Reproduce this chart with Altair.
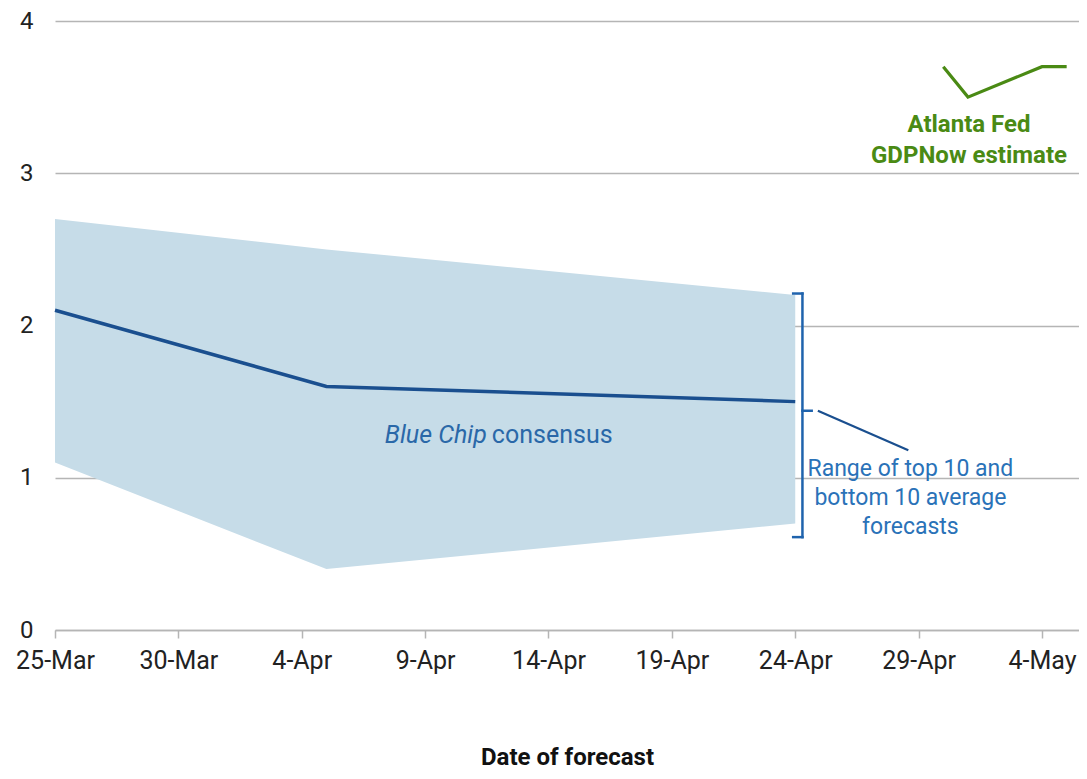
import altair as alt
import pandas as pd

# ---- data ----
band_dates = ["2024-03-25T00:00:00", "2024-04-05T00:00:00", "2024-04-24T00:00:00"]
consensus = [2.1, 1.6, 1.5]
range_low = [1.1, 0.4, 0.7]
range_high = [2.7, 2.5, 2.2]

gdpnow_dates = ["2024-04-30T00:00:00", "2024-05-01T00:00:00",
                "2024-05-04T00:00:00", "2024-05-05T00:00:00"]
gdpnow = [3.7, 3.5, 3.7, 3.7]

tick_days = [(3, 25), (3, 30), (4, 4), (4, 9), (4, 14), (4, 19), (4, 24), (4, 29), (5, 4)]
y_ticks = [0, 1, 2, 3, 4]

# bracket annotation (segments: start date, end date, start value, end value)
bracket_start = ["2024-04-23T22:00:00", "2024-04-24T07:00:00", "2024-04-23T22:00:00", "2024-04-24T07:00:00"]
bracket_end = ["2024-04-24T07:00:00", "2024-04-24T07:00:00", "2024-04-24T07:00:00", "2024-04-24T16:00:00"]
bracket_v0 = [2.21, 2.21, 0.61, 1.44]
bracket_v1 = [2.21, 0.61, 0.61, 1.44]

leader_start = ["2024-04-24T22:00:00"]
leader_end = ["2024-04-28T14:00:00"]
leader_v0 = [1.44]
leader_v1 = [1.18]

label_texts = ["Range of top 10 and\nbottom 10 average\nforecasts", "Atlanta Fed\nGDPNow estimate"]
label_dates = ["2024-04-28T16:00:00", "2024-05-01T01:00:00"]
label_values = [1.06, 3.32]

bc_date = ["2024-04-11T14:00:00"]
bc_value = [1.28]

# ---- frames ----
band_df = pd.DataFrame({"date": band_dates, "value": range_low, "value2": range_high})
cons_df = pd.DataFrame({"date": band_dates, "value": consensus})
gdp_df = pd.DataFrame({"date": gdpnow_dates, "value": gdpnow})
bracket_df = pd.DataFrame({"date": bracket_start, "date2": bracket_end,
                           "value": bracket_v0, "value2": bracket_v1})
leader_df = pd.DataFrame({"date": leader_start, "date2": leader_end,
                          "value": leader_v0, "value2": leader_v1})
range_lbl_df = pd.DataFrame({"date": label_dates[:1], "value": label_values[:1], "text": label_texts[:1]})
atl_lbl_df = pd.DataFrame({"date": label_dates[1:], "value": label_values[1:], "text": label_texts[1:]})
bc_df = pd.DataFrame({"date": bc_date, "value": bc_value})

FONT = "Roboto"
GRID = "#b5b5b5"

tick_values = [alt.DateTime(year=2024, month=m, date=d) for m, d in tick_days]
x_scale = alt.Scale(domain=[alt.DateTime(year=2024, month=3, date=25),
                            alt.DateTime(year=2024, month=5, date=5, hours=12)])
y_scale = alt.Scale(domain=[0, 4], nice=False)

x_axis = alt.Axis(values=tick_values, format="%-d-%b", title="Date of forecast",
                  labelFont=FONT, labelFontSize=25, labelColor="#222",
                  tickColor=GRID, tickSize=8, tickWidth=1.5,
                  domainColor=GRID, domainWidth=1.5, grid=False,
                  labelPadding=10, labelFlush=False, labelOverlap=False,
                  titleFont=FONT, titleFontSize=24, titleFontWeight="bold",
                  titleColor="#111", titlePadding=72)
y_axis = alt.Axis(values=y_ticks, grid=True, gridColor=GRID, gridWidth=1.5,
                  domain=False, ticks=False, labelFont=FONT, labelFontSize=24,
                  labelColor="#222", labelPadding=22, title=None)

X = alt.X("date:T", scale=x_scale, axis=x_axis)
Y = alt.Y("value:Q", scale=y_scale, axis=y_axis)

band = alt.Chart(band_df).mark_area(color="#c6dce8", opacity=1).encode(
    x=X, y=Y, y2=alt.Y2("value2:Q"))
cons = alt.Chart(cons_df).mark_line(color="#1a4f8f", strokeWidth=3.5).encode(x=X, y=Y)
gdp = alt.Chart(gdp_df).mark_line(color="#4a8a14", strokeWidth=3.2).encode(x=X, y=Y)
bracket = alt.Chart(bracket_df).mark_rule(color="#1f63ad", strokeWidth=2.5, strokeCap="square").encode(
    x=X, x2=alt.X2("date2:T"), y=Y, y2=alt.Y2("value2:Q"))
leader = alt.Chart(leader_df).mark_rule(color="#1a4f8f", strokeWidth=2.2).encode(
    x=X, x2=alt.X2("date2:T"), y=Y, y2=alt.Y2("value2:Q"))
range_lbl = alt.Chart(range_lbl_df).mark_text(
    font=FONT, fontSize=23, color="#2a72b8", align="center", baseline="middle",
    lineBreak="\n", lineHeight=29).encode(x=X, y=Y, text="text:N")
atl_lbl = alt.Chart(atl_lbl_df).mark_text(
    font=FONT, fontSize=24, fontWeight="bold", color="#4a8a14", align="center",
    baseline="middle", lineBreak="\n", lineHeight=31).encode(x=X, y=Y, text="text:N")
bc1 = alt.Chart(bc_df).mark_text(
    font=FONT, fontSize=25, fontStyle="italic", color="#2a68a8", align="right",
    baseline="middle", dx=-2, text="Blue Chip").encode(x=X, y=Y)
bc2 = alt.Chart(bc_df).mark_text(
    font=FONT, fontSize=25, color="#2a68a8", align="left",
    baseline="middle", dx=3, text="consensus").encode(x=X, y=Y)

chart = alt.layer(band, cons, gdp, bracket, leader, range_lbl, atl_lbl, bc1, bc2).properties(
    width=1024, height=609, autosize="none",
    padding={"left": 47, "top": 13, "right": 0, "bottom": 140},
    background="white",
).configure_view(stroke=None)

chart.save("out.html", embed_options={"renderer": "svg", "actions": False})
